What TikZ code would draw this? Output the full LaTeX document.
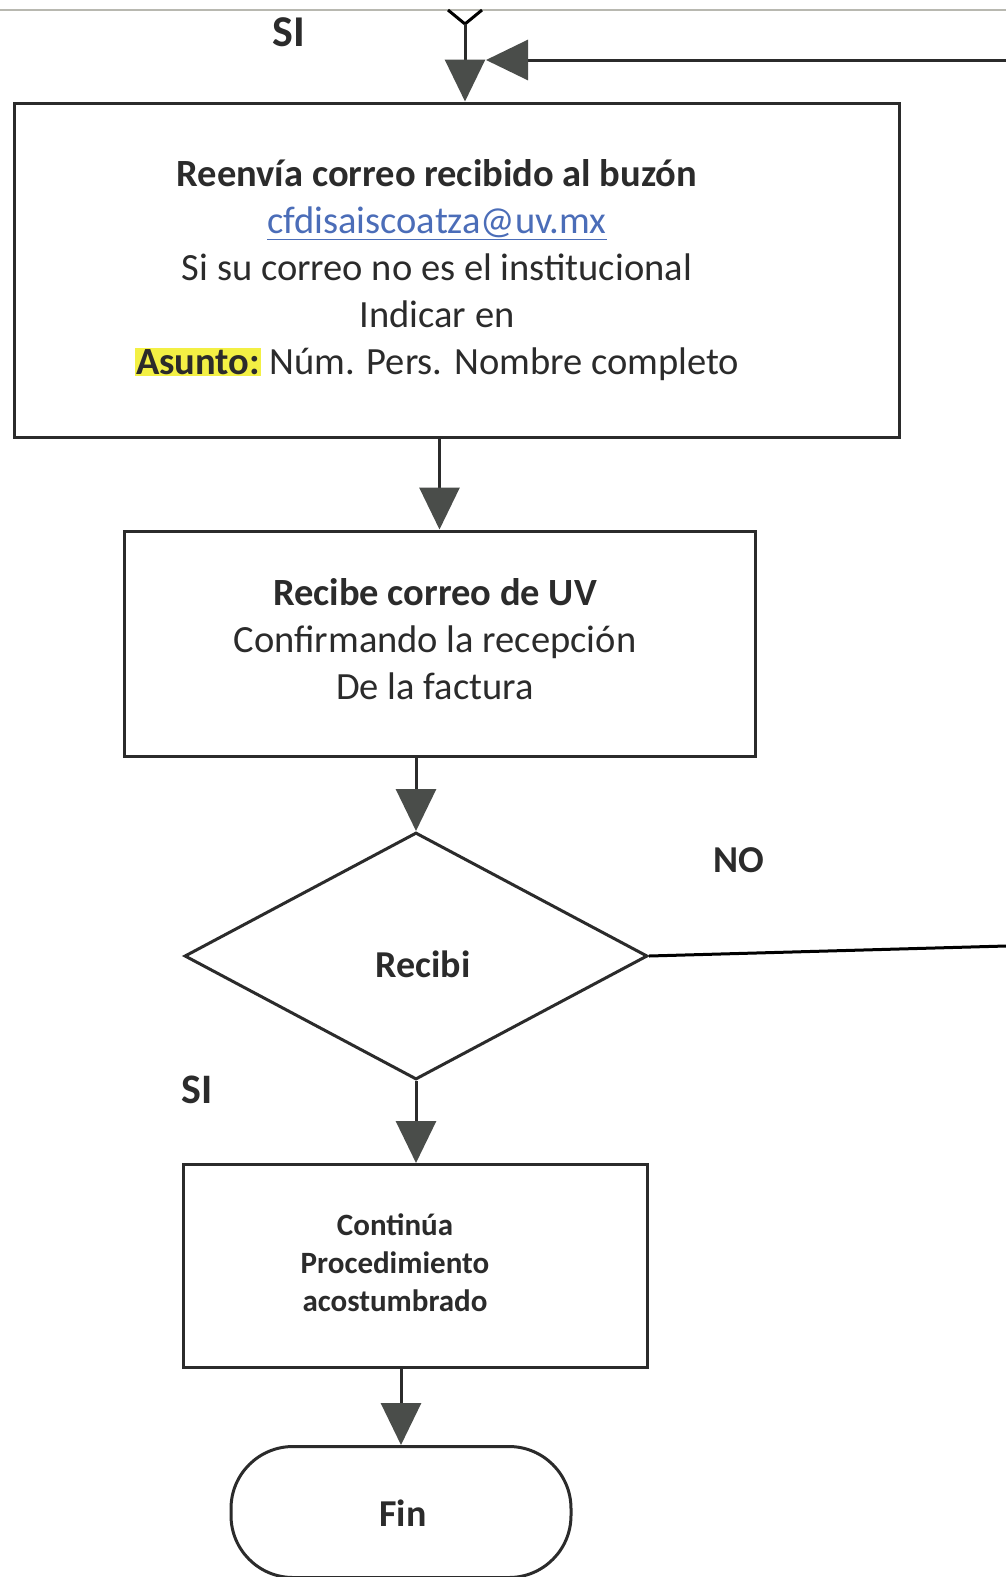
\documentclass[tikz,border=0pt]{standalone}
\usepackage{fontspec}
\setmainfont{Carlito}
\usetikzlibrary{arrows.meta,shapes.geometric}
\definecolor{ink}{HTML}{2B2B2B}
\definecolor{tipgray}{HTML}{4A4D4A}
\definecolor{linkblue}{HTML}{4B6DB8}
\definecolor{hl}{HTML}{F3F044}
\definecolor{edge}{HTML}{B8B8B0}
\begin{document}
\begin{tikzpicture}[x=1pt,y=-1pt,line width=3pt,
  box/.style={draw=ink,rectangle,inner sep=0pt},
  arr/.style={draw=ink,-{Triangle[width=40pt,length=42pt,color=tipgray]}},
  txt/.style={text=ink,align=center,font=\fontsize{38.5}{47}\selectfont},
  lbl/.style={text=ink,font=\fontsize{38}{44}\selectfont\bfseries}]
\useasboundingbox[fill=white] (0,0) rectangle (1006,1577);
\draw[edge,line width=1.5pt] (0,10) -- (1006,10);
% boxes
\node[box,minimum width=885pt,minimum height=334pt] (b1) at (457,270) {};
\node[txt] (t1) at (437,270) {\textbf{Reenvía correo recibido al buzón}\\
  \textcolor{linkblue}{\underline{cfdisaiscoatza@uv.mx}}\\
  Si su correo no es el institucional\\
  Indicar en\\
  {\setlength\fboxsep{1pt}\colorbox{hl}{\textbf{Asunto:}}} Núm. Pers. Nombre completo};
\node[box,minimum width=631pt,minimum height=225pt] (b2) at (439.5,643.5) {};
\node[txt] (t2) at (435,639) {\textbf{Recibe correo de UV}\\ Confirmando la recepción\\ De la factura};
\node[draw=ink,diamond,minimum width=463pt,minimum height=247pt,inner sep=0pt] (d) at (416,956) {};
\node[lbl] (t3) at (423,964) {Recibi};
\node[box,minimum width=464pt,minimum height=203pt] (b3) at (415,1266) {};
\node[text=ink,align=center,font=\fontsize{31}{38}\selectfont\bfseries] (t4) at (395,1263) {Continúa\\ Procedimiento\\ acostumbrado};
\node[draw=ink,rectangle,rounded corners=62pt,minimum width=340pt,minimum height=131pt] (fin) at (401,1512) {};
\node[lbl] (t5) at (403,1513) {Fin};
% labels
\node[lbl,font=\fontsize{44}{48}\selectfont\bfseries] (si1) at (289,32) {SI};
\node[lbl] (no) at (739,860) {NO};
\node[lbl,font=\fontsize{42}{46}\selectfont\bfseries] (si2) at (197,1090) {SI};
% top connectors
\coordinate (yv) at (465,24);
\draw (448,10) -- (yv) -- (482,10);
\draw[arr] (yv) -- (yv |- b1.north);
\coordinate (rin) at (1006,60);
\coordinate (tipL) at (486,60);
\draw[arr] (rin) -- (tipL);
% flow
\draw[arr] (b2.north |- b1.south) -- (b2.north);
\draw[arr] (d.north |- b2.south) -- (d.north);
\draw[arr] (d.south) -- (d.south |- b3.north);
\draw[arr] (fin.north |- b3.south) -- (fin.north);
\coordinate (rout) at (1006,946);
\draw (d.east) -- (rout);
\end{tikzpicture}
\end{document}
